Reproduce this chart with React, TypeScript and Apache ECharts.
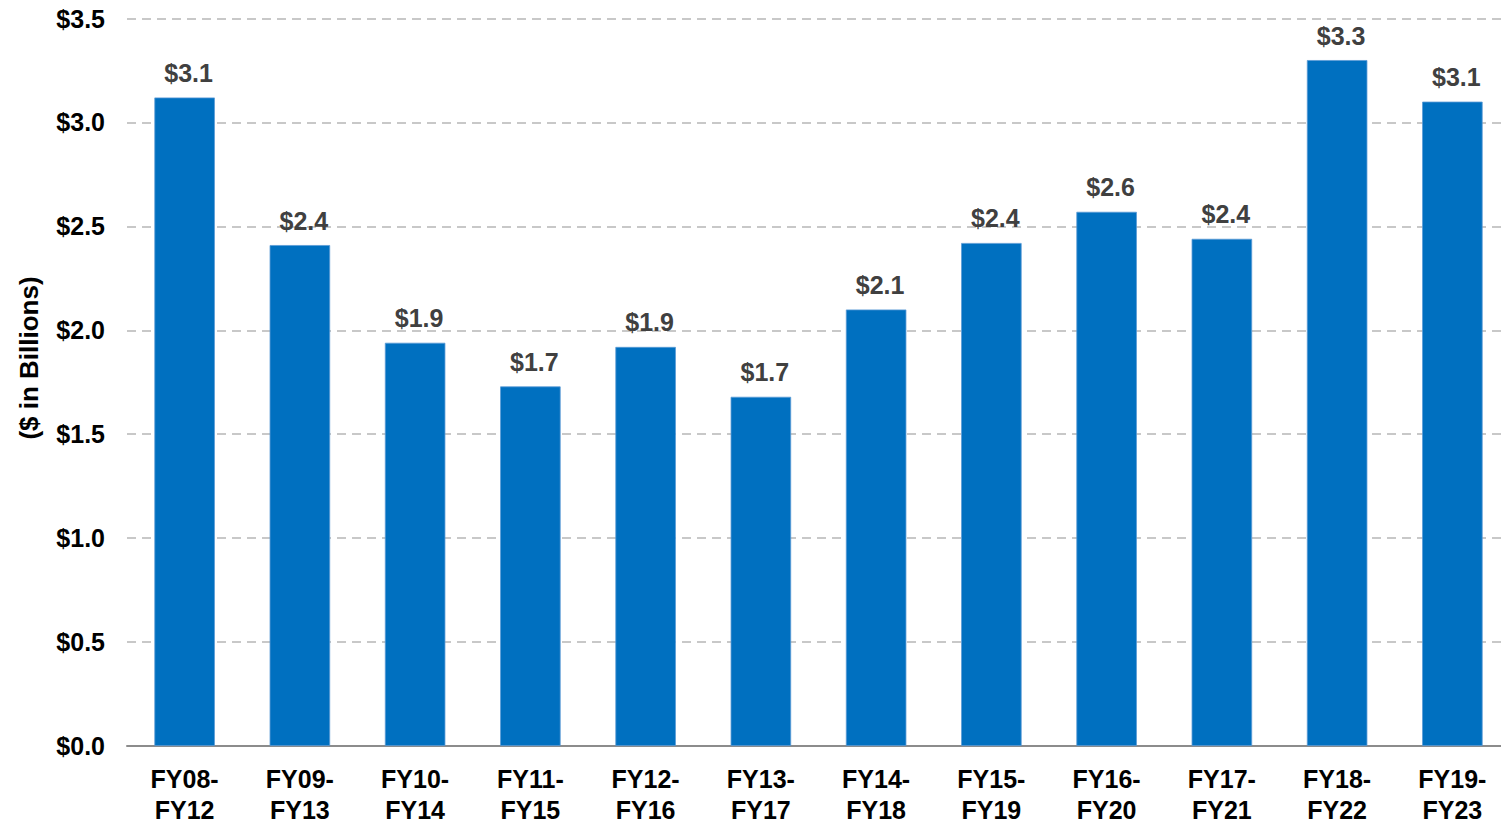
import React, { useEffect, useRef } from "react";
import * as echarts from "echarts";

const categories = [
  "FY08-\nFY12", "FY09-\nFY13", "FY10-\nFY14", "FY11-\nFY15", "FY12-\nFY16", "FY13-\nFY17",
  "FY14-\nFY18", "FY15-\nFY19", "FY16-\nFY20", "FY17-\nFY21", "FY18-\nFY22", "FY19-\nFY23",
];
const values = [3.12, 2.41, 1.94, 1.73, 1.92, 1.68, 2.1, 2.42, 2.57, 2.44, 3.3, 3.1];
const yTicks = [0, 0.5, 1.0, 1.5, 2.0, 2.5, 3.0, 3.5];
const yAxisName = "($ in Billions)";

const FONT = "'Liberation Sans', Arial, sans-serif";

export default function App() {
  const ref = useRef<HTMLDivElement>(null);
  useEffect(() => {
    if (!ref.current) return;
    const chart = echarts.init(ref.current, null, { renderer: "svg" });
    chart.setOption({
      animation: false,
      backgroundColor: "#ffffff",
      grid: { left: 127, right: 0, top: 18.5, bottom: 79, containLabel: false },
      xAxis: {
        type: "category",
        data: categories,
        axisLine: { show: true, lineStyle: { color: "#8c8c8c", width: 2 } },
        axisTick: { show: false },
        axisLabel: {
          color: "#000000",
          fontFamily: FONT,
          fontWeight: "bold",
          fontSize: 25,
          lineHeight: 31,
          margin: 17,
          interval: 0,
        },
      },
      yAxis: {
        type: "value",
        min: 0,
        max: yTicks[yTicks.length - 1],
        interval: 0.5,
        axisLine: { show: false },
        axisTick: { show: false },
        axisLabel: {
          color: "#000000",
          fontFamily: FONT,
          fontWeight: "bold",
          fontSize: 25,
          margin: 22,
          formatter: (v: number) => "$" + v.toFixed(1),
        },
        splitLine: {
          show: true,
          lineStyle: { color: "#c8c8c8", width: 2, type: [9, 6] },
        },
      },
      graphic: [
        {
          type: "text",
          x: 29,
          y: 358,
          rotation: Math.PI / 2,
          style: {
            text: yAxisName,
            fontFamily: FONT,
            fontWeight: "bold",
            fontSize: 26,
            fill: "#000000",
            align: "center",
            verticalAlign: "middle",
          },
        },
      ],
      series: [
        {
          type: "bar",
          data: values,
          barWidth: 60.5,
          itemStyle: { color: "#0070c0", borderColor: "#5b9bd5", borderWidth: 0.8 },
          label: {
            show: true,
            position: "top",
            distance: 12,
            offset: [4, 0],
            color: "#404040",
            fontFamily: FONT,
            fontWeight: "bold",
            fontSize: 25,
            formatter: (p: any) => "$" + Number(p.value).toFixed(1),
          },
        },
      ],
    });
    return () => chart.dispose();
  }, []);
  return (
    <div
      style={{ position: "fixed", left: 0, top: 0, width: 1501, height: 825, overflow: "hidden", background: "#fff" }}
    >
      <div ref={ref} style={{ width: 1510, height: 825 }} />
    </div>
  );
}
